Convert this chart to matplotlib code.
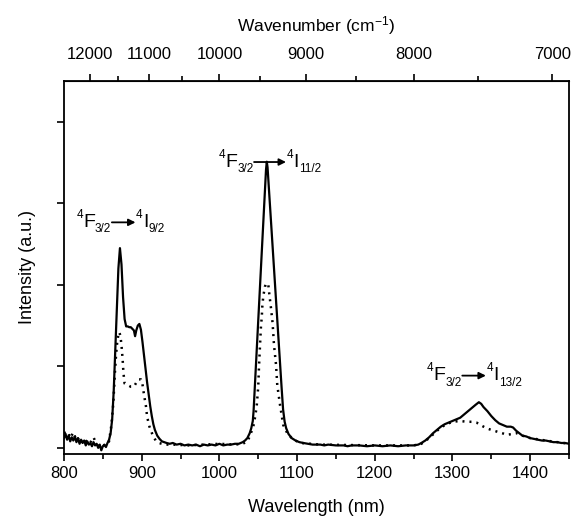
import matplotlib
matplotlib.use("Agg")
import matplotlib.pyplot as plt
from matplotlib import font_manager
from matplotlib.transforms import offset_copy

plt.rcParams['font.family'] = ['Liberation Sans', 'DejaVu Sans']
plt.rcParams['mathtext.fontset'] = 'custom'
plt.rcParams['mathtext.rm'] = 'Liberation Sans'
plt.rcParams['mathtext.it'] = 'Liberation Sans:italic'
plt.rcParams['mathtext.default'] = 'regular'

# Emission spectrum, solid line (wavelength nm / intensity a.u.)
solid_nm = [800, 802, 804, 806, 808, 810, 812, 814, 816, 818, 820, 822, 824, 826, 828, 830,
            832, 834, 836, 838, 840, 842, 844, 846, 848, 850, 852, 854, 856, 858, 860, 862,
            864, 866, 868, 870, 872, 874, 876, 878, 880, 882, 884, 886, 888, 890, 891.5, 893,
            895, 897, 899, 901, 903, 905, 907, 909, 911, 913, 915, 917, 920, 923, 926, 929,
            932, 936, 940, 945, 950, 955, 960, 965, 970, 975, 980, 985, 990, 995, 1000, 1005,
            1010, 1015, 1020, 1025, 1030, 1033, 1036, 1039, 1041, 1043, 1044, 1046, 1048, 1050,
            1052, 1054, 1056, 1058, 1060, 1061, 1062, 1064, 1066, 1068, 1070, 1072, 1074, 1076,
            1078, 1080, 1082, 1084, 1086, 1089, 1093, 1098, 1103, 1108, 1114, 1120, 1126, 1130,
            1135, 1140, 1150, 1160, 1165, 1170, 1180, 1190, 1200, 1210, 1220, 1230, 1240, 1250,
            1256, 1260, 1265, 1270, 1275, 1280, 1285, 1290, 1295, 1300, 1305, 1310, 1315, 1320,
            1325, 1330, 1334, 1337, 1340, 1345, 1350, 1355, 1360, 1365, 1370, 1375, 1378, 1382,
            1386, 1390, 1395, 1400, 1405, 1410, 1415, 1420, 1425, 1430, 1435, 1440, 1445, 1450]
solid_int = [0.12, 0.17, 0.10, 0.15, 0.08, 0.13, 0.09, 0.14, 0.07, 0.12, 0.05, 0.10, 0.06, 0.09, 0.03, 0.08,
             0.04, 0.06, 0.02, 0.07, 0.03, 0.05, 0.00, 0.04, -0.03, 0.02, 0.04, 0.01, 0.06, 0.10, 0.18, 0.35,
             0.70, 1.20, 1.72, 2.20, 2.45, 2.25, 1.85, 1.58, 1.49, 1.49, 1.48, 1.48, 1.46, 1.44, 1.37, 1.44,
             1.50, 1.52, 1.45, 1.30, 1.13, 0.96, 0.80, 0.65, 0.51, 0.39, 0.29, 0.22, 0.15, 0.11, 0.08, 0.07,
             0.06, 0.05, 0.06, 0.04, 0.05, 0.03, 0.04, 0.03, 0.04, 0.02, 0.04, 0.03, 0.04, 0.03, 0.05, 0.03,
             0.04, 0.04, 0.05, 0.05, 0.07, 0.09, 0.12, 0.18, 0.24, 0.33, 0.45, 0.82, 1.19, 1.56,
             1.93, 2.30, 2.67, 3.04, 3.41, 3.51, 3.44, 3.14, 2.84, 2.54, 2.24, 1.95, 1.65, 1.35,
             1.05, 0.75, 0.47, 0.32, 0.24, 0.17, 0.12, 0.09, 0.07, 0.06, 0.05, 0.04, 0.04, 0.04,
             0.03, 0.04, 0.03, 0.03, 0.02, 0.03, 0.03, 0.02, 0.03, 0.02, 0.03, 0.02, 0.03, 0.03,
             0.04, 0.06, 0.09, 0.13, 0.18, 0.22, 0.26, 0.29, 0.31, 0.33, 0.35, 0.37, 0.41, 0.45,
             0.49, 0.53, 0.56, 0.54, 0.50, 0.45, 0.39, 0.34, 0.30, 0.28, 0.26, 0.26, 0.25, 0.21,
             0.18, 0.15, 0.14, 0.12, 0.11, 0.10, 0.09, 0.09, 0.08, 0.07, 0.07, 0.06, 0.06, 0.05]

# dotted spectrum
dot_nm = [800, 805, 808, 812, 816, 820, 824, 827, 831, 835, 838, 842, 846, 850, 854, 858,
          861, 863.5, 865.5, 867, 868.5, 870, 871, 872.5, 874, 875.5, 876.5, 878, 882, 886, 890, 893,
          896, 899, 901, 903, 905.5, 907, 910, 914, 918, 922, 930, 940, 960, 980, 1000, 1020,
          1030, 1036, 1039, 1043.6, 1046, 1048, 1050, 1051, 1052.2, 1053.5, 1054.6, 1055.2, 1056.5, 1058.7,
          1060.5, 1063, 1064.3, 1066, 1068.5, 1070.3, 1072.9, 1074.5, 1078, 1082.2, 1087.4, 1095, 1105, 1130,
          1200, 1250, 1260, 1270, 1280, 1290, 1300, 1310, 1318, 1325, 1331, 1338, 1344, 1350, 1357, 1364,
          1370, 1377, 1383, 1390, 1400, 1420, 1450]
dot_int = [0.18, 0.20, 0.12, 0.19, 0.09, 0.13, 0.06, 0.10, 0.05, 0.08, 0.13, 0.04, 0.02, 0.03, 0.03, 0.08,
           0.28, 0.55, 0.92, 1.14, 1.30, 1.39, 1.42, 1.38, 1.26, 1.08, 0.92, 0.79, 0.77, 0.75, 0.75, 0.80,
           0.84, 0.84, 0.78, 0.65, 0.51, 0.38, 0.26, 0.16, 0.09, 0.06, 0.04, 0.04, 0.03, 0.04, 0.05, 0.04,
           0.05, 0.08, 0.14, 0.26, 0.38, 0.51, 0.75, 1.00, 1.24, 1.49, 1.61, 1.73, 1.86, 1.98,
           2.02, 2.00, 1.88, 1.75, 1.53, 1.26, 1.02, 0.77, 0.53, 0.28, 0.18, 0.10, 0.06, 0.04,
           0.03, 0.03, 0.05, 0.12, 0.21, 0.28, 0.32, 0.33, 0.32, 0.32, 0.31, 0.27, 0.24, 0.22, 0.20, 0.18,
           0.16, 0.17, 0.18, 0.15, 0.12, 0.09, 0.05]

x_ticks = [800, 900, 1000, 1100, 1200, 1300, 1400]
x_minor = [850, 950, 1050, 1150, 1250, 1350, 1450]
wn_ticks = [12000, 11000, 10000, 9000, 8000, 7000]
wn_minor = [11500, 10500, 9500, 8500, 7500]
y_ticks = [0, 1, 2, 3, 4]

# narrow font for the small indices if it is there
names = {f.name for f in font_manager.fontManager.ttflist}
small_font = 'Liberation Sans Narrow' if 'Liberation Sans Narrow' in names else 'Liberation Sans'

fig = plt.figure(figsize=(5.74, 5.17), dpi=100)
ax = fig.add_axes([0.1115, 0.1219, 0.8798, 0.7214])

ax.plot(dot_nm, dot_int, color='black', lw=1.8, linestyle=(0, (0.8, 2.0)))
ax.plot(solid_nm, solid_int, color='black', lw=1.6)

ax.set_xlim(800, 1450)
ax.set_ylim(-0.075, 4.5)
ax.set_xticks(x_ticks)
ax.set_xticks(x_minor, minor=True)
ax.set_yticks(y_ticks)
ax.set_yticklabels([])
ax.tick_params(axis='both', which='major', direction='out', length=5, width=1.2, labelsize=12, top=False, right=False)
ax.tick_params(axis='x', which='minor', direction='out', length=3.5, width=1.2)
ax.tick_params(axis='y', which='minor', left=False)
for s in ax.spines.values():
    s.set_linewidth(1.3)

ax.set_xlabel("Wavelength (nm)", fontsize=13, labelpad=13)
ax.set_ylabel("Intensity (a.u.)", fontsize=13, labelpad=12)

# top axis in wavenumber
top = ax.secondary_xaxis('top', functions=(lambda x: 1e7 / x, lambda x: 1e7 / x))
top.set_xticks(wn_ticks)
top.set_xticks(wn_minor, minor=True)
top.tick_params(which='major', direction='out', length=5, width=1.2, labelsize=12, pad=9)
top.tick_params(which='minor', direction='out', length=3.5, width=1.2)
top.set_xlabel("Wavenumber (cm$^{-1}$)", fontsize=12.5, labelpad=11)

# transition labels built piece by piece
renderer = fig.canvas.get_renderer()

def transition(x, y, lower, arrow_len):
    pieces = [("4", 8.5, 6.5), ("F", 14, 0), ("3/2", 8.5, -4.0), None,
              ("4", 8.5, 6.5), ("I", 14, 0), (lower, 8.5, -4.0)]
    dx = 0.0
    for p in pieces:
        if p is None:
            t0 = offset_copy(ax.transData, fig=fig, x=dx + 0.5, y=3.3, units='points')
            t1 = offset_copy(ax.transData, fig=fig, x=dx + 0.5 + arrow_len, y=3.3, units='points')
            ax.annotate("", xy=(x, y), xycoords=t1, xytext=(x, y), textcoords=t0,
                        arrowprops=dict(arrowstyle='-|>', color='black', lw=1.3,
                                        mutation_scale=10, shrinkA=0, shrinkB=0))
            dx += arrow_len + 1.0
            continue
        s, size, dy = p
        fam = small_font if size < 10 else 'Liberation Sans'
        t = ax.text(x, y, s, fontsize=size, family=fam, ha='left', va='baseline',
                    transform=offset_copy(ax.transData, fig=fig, x=dx, y=dy, units='points'))
        dx += t.get_window_extent(renderer).width * 72 / fig.dpi

transition(816, 2.71, "9/2", 17)
transition(999, 3.45, "11/2", 23)
transition(1267, 0.83, "13/2", 17)

fig.savefig("out.png", dpi=100)
